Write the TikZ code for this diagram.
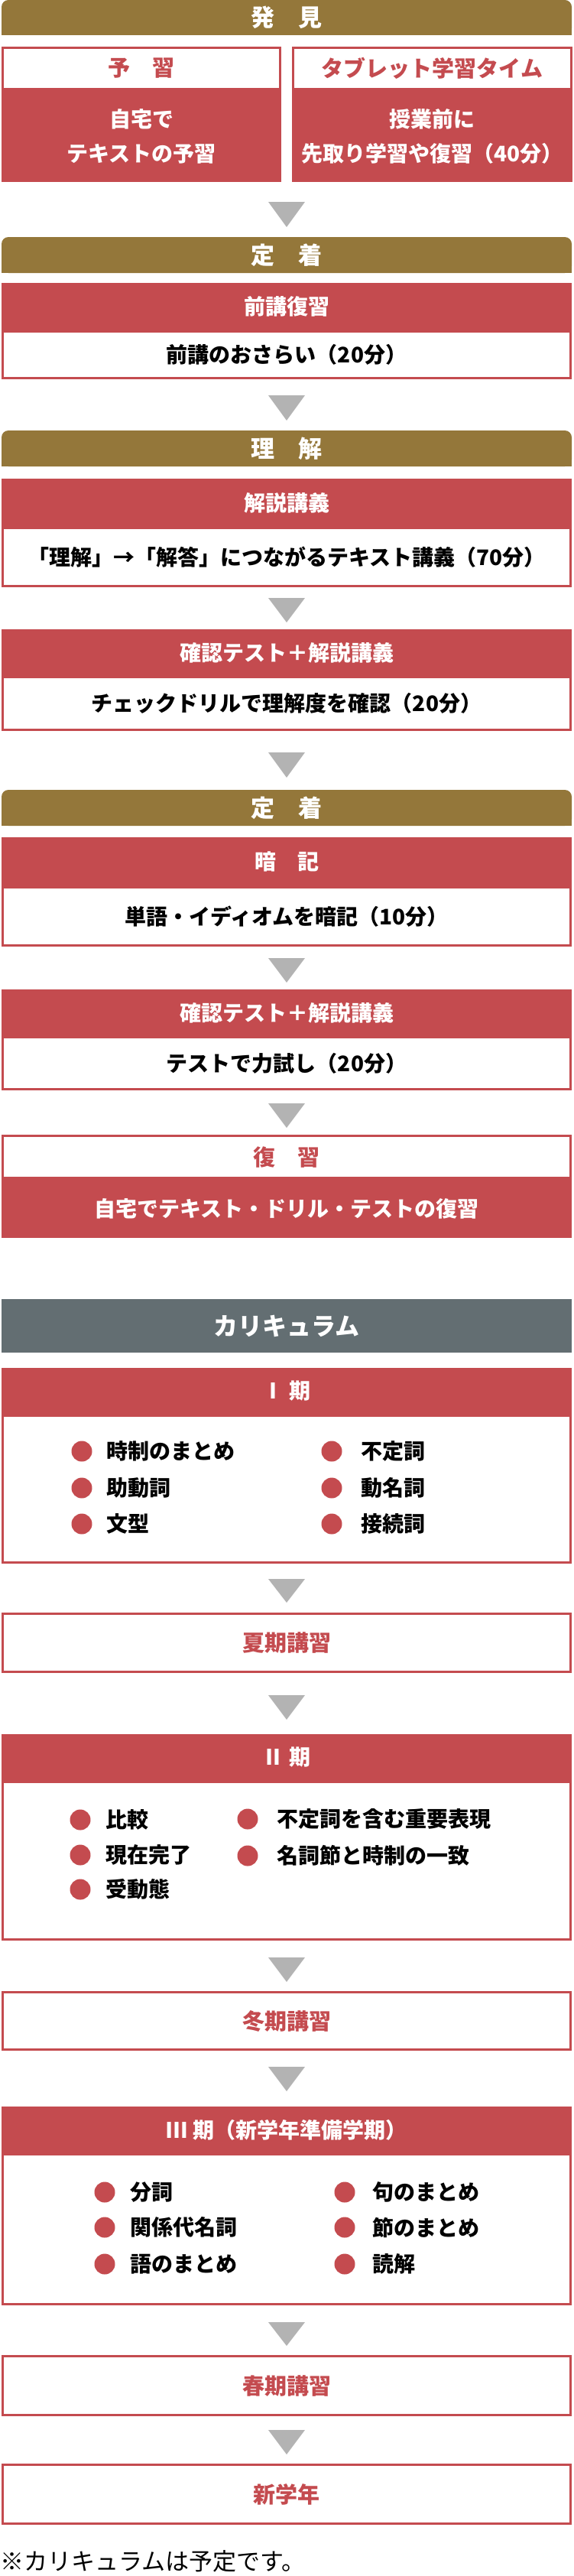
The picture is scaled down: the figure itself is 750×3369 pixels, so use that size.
\documentclass[tikz,border=0pt]{standalone}
\usepackage{fontspec}
\setmainfont{Noto Sans CJK JP}

\definecolor{kinbar}{HTML}{94773A}
\definecolor{akabox}{HTML}{C44B4F}
\definecolor{haibar}{HTML}{636E72}
\definecolor{sankakuiro}{HTML}{B3B3B3}

\begin{document}
\begin{tikzpicture}[x=1pt, y=-1pt,
        bar/.style={fill=kinbar, rounded corners=9pt, minimum width=746pt, inner sep=0pt},
        bartext/.style={inner sep=0pt, text=white, font=\fontsize{31}{36}\selectfont\bfseries},
        midashi/.style={fill=akabox, draw=akabox, line width=3pt, minimum width=743pt, inner sep=0pt, text=white, font=\fontsize{28}{34}\selectfont\bfseries},
        naiyou/.style={fill=white, draw=akabox, line width=3pt, minimum width=743pt, inner sep=0pt, text=black, font=\fontsize{28}{34}\selectfont\bfseries},
        shiromidashi/.style={fill=white, draw=akabox, line width=3pt, minimum width=743pt, inner sep=0pt, text=akabox, font=\fontsize{29}{34}\selectfont\bfseries},
        akanaiyou/.style={fill=akabox, draw=akabox, line width=3pt, minimum width=743pt, inner sep=0pt, text=white, align=center, font=\fontsize{28}{45}\selectfont\bfseries},
        maru/.style={circle, fill=akabox, minimum size=27pt, inner sep=0pt},
        koumoku/.style={anchor=west, inner sep=0pt, font=\fontsize{28}{34}\selectfont\bfseries},
        sankaku/.style={fill=sankakuiro}]

        \useasboundingbox (0,0) rectangle (750,3369);

        % 発見
        \node[bar, minimum height=46pt] (hakken) at (375,23) {};
        \fill[kinbar] (hakken.west) rectangle (hakken.south east);
        \node[bartext] (hakkenT) at (hakken) {発　見};

        \node[shiromidashi, minimum width=363pt, minimum height=54pt] (yoshuH) at (185,89.5) {予　習};
        \node[akanaiyou, minimum width=363pt, minimum height=117pt] (yoshuB) at (185,178) {自宅で\\テキストの予習};
        \node[shiromidashi, minimum width=364pt, minimum height=54pt] (tabH) at (565.5,89.5) {タブレット学習タイム};
        \node[akanaiyou, minimum width=364pt, minimum height=117pt] (tabB) at (565.5,178) {授業前に\\先取り学習や復習（40分）};

        \fill[sankaku] (351,264) -- (399,264) -- (375,297) -- cycle;

        % 定着
        \node[bar, minimum height=47pt] (teichaku) at (375,333.5) {};
        \fill[kinbar] (teichaku.west) rectangle (teichaku.south east);
        \node[bartext] (teichakuT) at (teichaku) {定　着};

        \node[midashi, minimum height=59pt] (zenkouH) at (375,401) {前講復習};
        \node[naiyou, minimum height=61pt] (zenkouB) at (375,464) {前講のおさらい（20分）};

        \fill[sankaku] (351,517) -- (399,517) -- (375,550) -- cycle;

        % 理解
        \node[bar, minimum height=47pt] (rikai) at (375,586.5) {};
        \fill[kinbar] (rikai.west) rectangle (rikai.south east);
        \node[bartext] (rikaiT) at (rikai) {理　解};

        \node[midashi, minimum height=60pt] (kaisetsuH) at (375,657.5) {解説講義};
        \node[naiyou, minimum height=76pt] (kaisetsuB) at (375,728.5) {「理解」→「解答」につながるテキスト講義（70分）};

        \fill[sankaku] (351,782) -- (399,782) -- (375,814) -- cycle;

        \node[midashi, minimum height=58pt] (kakuninH) at (375,853.5) {確認テスト＋解説講義};
        \node[naiyou, minimum height=69pt] (kakuninB) at (375,920) {チェックドリルで理解度を確認（20分）};

        \fill[sankaku] (351,984) -- (399,984) -- (375,1017) -- cycle;

        % 定着
        \node[bar, minimum height=47pt] (teichakuni) at (375,1056.5) {};
        \fill[kinbar] (teichakuni.west) rectangle (teichakuni.south east);
        \node[bartext] (teichakuniT) at (teichakuni) {定　着};

        \node[midashi, minimum height=61pt] (ankiH) at (375,1127) {暗　記};
        \node[naiyou, minimum height=76pt] (ankiB) at (375,1198.5) {単語・イディオムを暗記（10分）};

        \fill[sankaku] (351,1253) -- (399,1253) -- (375,1285) -- cycle;

        \node[midashi, minimum height=58pt] (kakuninniH) at (375,1324.5) {確認テスト＋解説講義};
        \node[naiyou, minimum height=68pt] (kakuninniB) at (375,1390.5) {テストで力試し（20分）};

        \fill[sankaku] (351,1443) -- (399,1443) -- (375,1475) -- cycle;

        \node[shiromidashi, minimum height=55pt] (fukushuH) at (375,1513) {復　習};
        \node[akanaiyou, minimum height=74pt] (fukushuB) at (375,1580.5) {自宅でテキスト・ドリル・テストの復習};

        % カリキュラム
        \node[fill=haibar, minimum width=746pt, minimum height=70pt, inner sep=0pt, text=white, font=\fontsize{32}{36}\selectfont\bfseries] (karikyuramu) at (375,1734) {カリキュラム};

        \node[midashi, minimum height=58pt] (ikkiH) at (375,1819.5) {Ⅰ 期};
        \node[naiyou, minimum height=192pt] (ikkiB) at (375,1947.5) {};
        \node[maru] (ikkiA) at (107,1898) {};
        \node[maru] (ikkiB1) at (107,1946) {};
        \node[maru] (ikkiC) at (107,1993) {};
        \node[koumoku] at (139,1898) {時制のまとめ};
        \node[koumoku] at (139,1946) {助動詞};
        \node[koumoku] at (139,1993) {文型};
        \node[maru] (ikkiD) at (434,1898) {};
        \node[maru] (ikkiE) at (434,1946) {};
        \node[maru] (ikkiF) at (434,1993) {};
        \node[koumoku] at (472,1898) {不定詞};
        \node[koumoku] at (472,1946) {動名詞};
        \node[koumoku] at (472,1993) {接続詞};

        \fill[sankaku] (351,2065) -- (399,2065) -- (375,2096) -- cycle;

        \node[shiromidashi, minimum height=76pt] (kaki) at (375,2148.5) {夏期講習};

        \fill[sankaku] (351,2217) -- (399,2217) -- (375,2249) -- cycle;

        \node[midashi, minimum height=58pt] (nikiH) at (375,2298.5) {Ⅱ 期};
        \node[naiyou, minimum height=206pt] (nikiB) at (375,2433.5) {};
        \node[maru] (nikiA) at (105,2380) {};
        \node[maru] (nikiB1) at (105,2426) {};
        \node[maru] (nikiC) at (105,2471) {};
        \node[koumoku] at (138,2380) {比較};
        \node[koumoku] at (138,2426) {現在完了};
        \node[koumoku] at (138,2471) {受動態};
        \node[maru] (nikiD) at (324,2379) {};
        \node[maru] (nikiE) at (324,2427) {};
        \node[koumoku] at (362,2379) {不定詞を含む重要表現};
        \node[koumoku] at (362,2427) {名詞節と時制の一致};

        \fill[sankaku] (351,2560) -- (399,2560) -- (375,2592) -- cycle;

        \node[shiromidashi, minimum height=75pt] (touki) at (375,2643) {冬期講習};

        \fill[sankaku] (351,2703) -- (399,2703) -- (375,2735) -- cycle;

        \node[midashi, minimum height=58pt] (sankiH) at (375,2785.5) {Ⅲ 期（新学年準備学期）};
        \node[naiyou, minimum height=196pt] (sankiB) at (375,2915.5) {};
        \node[maru] (sankiA) at (137,2867) {};
        \node[maru] (sankiB1) at (137,2913) {};
        \node[maru] (sankiC) at (137,2961) {};
        \node[koumoku] at (170,2867) {分詞};
        \node[koumoku] at (170,2913) {関係代名詞};
        \node[koumoku] at (170,2961) {語のまとめ};
        \node[maru] (sankiD) at (451,2867) {};
        \node[maru] (sankiE) at (451,2913) {};
        \node[maru] (sankiF) at (451,2961) {};
        \node[koumoku] at (487,2867) {句のまとめ};
        \node[koumoku] at (487,2913) {節のまとめ};
        \node[koumoku] at (487,2961) {読解};

        \fill[sankaku] (351,3037) -- (399,3037) -- (375,3068) -- cycle;

        \node[shiromidashi, minimum height=77pt] (shunki) at (375,3120) {春期講習};

        \fill[sankaku] (351,3178) -- (399,3178) -- (375,3210) -- cycle;

        \node[shiromidashi, minimum height=77pt] (shingakunen) at (375,3262) {新学年};

        \node[anchor=west, inner sep=0pt, font=\fontsize{31}{36}\selectfont] (chuui) at (0,3350) {※カリキュラムは予定です。};

    \end{tikzpicture}
\end{document}
